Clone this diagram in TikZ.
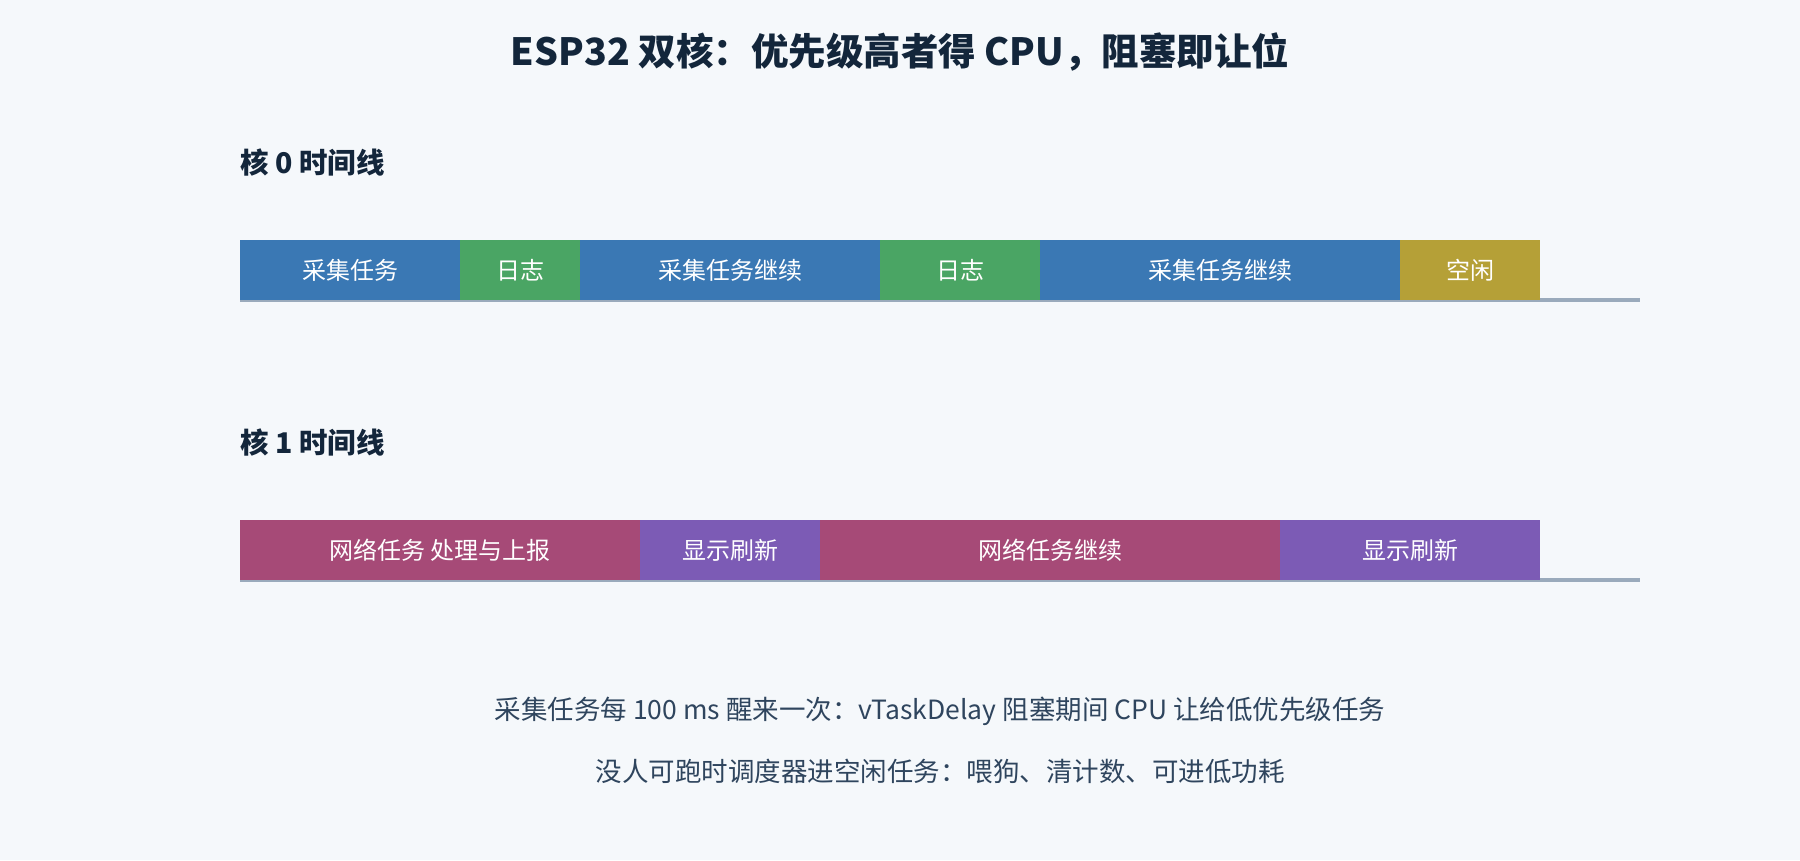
\documentclass[tikz,border=0pt]{standalone}
\usepackage{fontspec}
\setmainfont{Noto Sans CJK SC}
\begin{document}
\begin{tikzpicture}[x=1pt,y=-1pt,
  blk/.style={draw=none,inner sep=0pt,font=\fontsize{24}{28}\selectfont,text=white},
  lane/.style={line width=4pt,draw=lanecol},
  lbl/.style={anchor=west,inner sep=0pt,font=\fontsize{28.5}{32}\selectfont\bfseries,text=titlecol},
  foot/.style={inner sep=0pt,font=\fontsize{26.5}{30}\selectfont,text=footcol}]
\definecolor{bg}{HTML}{F5F8FB}
\definecolor{titlecol}{HTML}{13263B}
\definecolor{footcol}{HTML}{2F455E}
\definecolor{lanecol}{HTML}{9AAABC}
\definecolor{cblue}{HTML}{3A78B4}
\definecolor{cgreen}{HTML}{4AA564}
\definecolor{cgold}{HTML}{B5A037}
\definecolor{cmag}{HTML}{A64A77}
\definecolor{cpur}{HTML}{7C5BB5}
\fill[bg] (0,0) rectangle (1800,860);
\useasboundingbox (0,0) rectangle (1800,860);
\node[inner sep=0pt,font=\fontsize{37.5}{42}\selectfont\bfseries,text=titlecol] (title) at (900,52) {ESP32 双核：优先级高者得 CPU，阻塞即让位};
\node[lbl] (l0) at (240,163) {核 0 时间线};
\node[lbl] (l1) at (240,443) {核 1 时间线};
% core 0
\coordinate (c0s) at (240,300);
\coordinate (c0e) at (1640,300);
\draw[lane] (c0s) -- (c0e);
\fill[cblue] (240,240) rectangle (460,300);
\node[blk] (a1) at (350,270) {采集任务};
\fill[cgreen] (460,240) rectangle (580,300);
\node[blk] (a2) at (520,270) {日志};
\fill[cblue] (580,240) rectangle (880,300);
\node[blk] (a3) at (730,270) {采集任务继续};
\fill[cgreen] (880,240) rectangle (1040,300);
\node[blk] (a4) at (960,270) {日志};
\fill[cblue] (1040,240) rectangle (1400,300);
\node[blk] (a5) at (1220,270) {采集任务继续};
\fill[cgold] (1400,240) rectangle (1540,300);
\node[blk] (a6) at (1470,270) {空闲};
% core 1
\coordinate (c1s) at (240,580);
\coordinate (c1e) at (1640,580);
\draw[lane] (c1s) -- (c1e);
\fill[cmag] (240,520) rectangle (640,580);
\node[blk] (b1) at (440,550) {网络任务 处理与上报};
\fill[cpur] (640,520) rectangle (820,580);
\node[blk] (b2) at (730,550) {显示刷新};
\fill[cmag] (820,520) rectangle (1280,580);
\node[blk] (b3) at (1050,550) {网络任务继续};
\fill[cpur] (1280,520) rectangle (1540,580);
\node[blk] (b4) at (1410,550) {显示刷新};
\node[foot] (f1) at (940,711) {采集任务每 100 ms 醒来一次：vTaskDelay 阻塞期间 CPU 让给低优先级任务};
\node[foot] (f2) at (940,771) {没人可跑时调度器进空闲任务：喂狗、清计数、可进低功耗};
\end{tikzpicture}
\end{document}
